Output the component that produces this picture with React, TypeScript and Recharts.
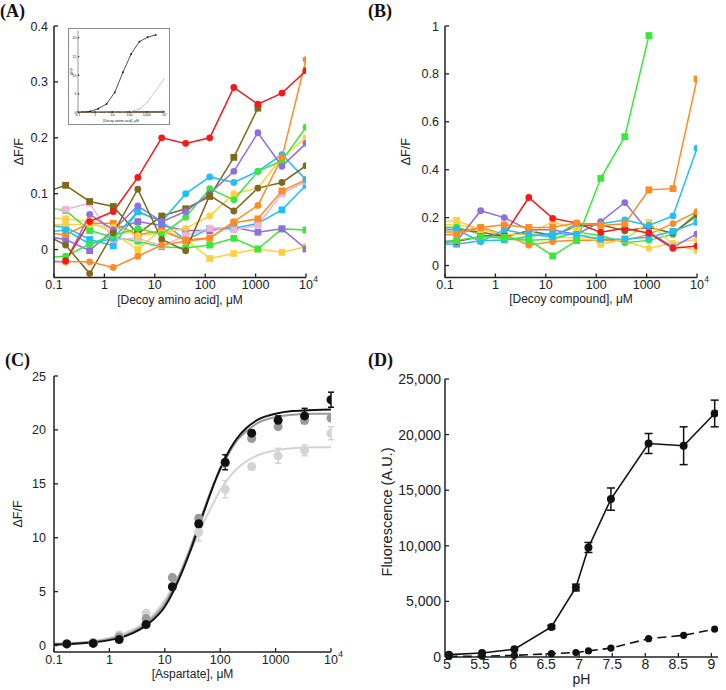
import React from 'react'
import { ComposedChart, Line, XAxis, YAxis, ErrorBar } from 'recharts'

const SANS = '"Liberation Sans", Arial, Helvetica, sans-serif'
const SERIF = '"Liberation Serif", "Times New Roman", serif'
const INK = '#222'

const RED = '#f41a1a'
const ORANGE = '#ff8b25'
const BROWN = '#7d6a1c'
const PURPLE = '#8f6ee0'
const GREEN = '#3ae83a'
const CYAN = '#20bff5'
const YELLOW = '#ffd043'
const PINK = '#f2b3d9'

// 3-fold dilutions (µM). the 0.056 column is left of the 0.1 edge, only its line stubs show
const CONC = [0.056, 0.17, 0.51, 1.5, 4.6, 13.7, 41, 123, 370, 1111, 3333, 10000]
const LOG_TICKS = [0.1, 1, 10, 100, 1000, 10000]

// (A) decoy amino acids, dF/F
const A_RED = [null, -0.02, 0.05, 0.068, 0.129, 0.2, 0.19, 0.2, 0.29, 0.26, 0.28, 0.32]
const A_BROWN_SQ = [0.1, 0.115, 0.086, 0.077, 0.028, 0.06, 0.073, 0.095, 0.165, 0.253, null, null]
const A_BROWN_C = [0.03, 0.008, -0.043, 0.03, 0.108, 0.018, -0.002, 0.097, 0.069, 0.11, 0.12, 0.15]
const A_ORANGE_C = [-0.022, -0.022, -0.022, -0.032, -0.012, 0.008, 0.015, 0.02, 0.05, 0.079, 0.165, 0.34]
const A_ORANGE_SQ = [0.03, 0.027, 0.047, 0.047, 0.027, 0.033, 0.017, 0.021, 0.048, 0.055, 0.105, 0.125]
const A_PINK_SQ = [0.072, 0.072, 0.083, 0.018, 0.02, 0.007, 0.025, 0.038, 0.035, 0.044, 0.1, 0.122]
const A_PURPLE_C = [-0.02, -0.022, 0.063, 0.035, 0.078, 0.05, 0.068, 0.1, 0.14, 0.209, 0.149, 0.19]
const A_PURPLE_SQ = [0.025, 0.018, -0.002, 0.035, 0.05, 0.043, 0.034, 0.034, 0.04, 0.031, 0.037, 0.001]
const A_GREEN_SQ = [0.075, 0.07, 0.034, 0.022, 0.015, 0.005, 0.003, 0.008, 0.02, 0.001, 0.037, 0.035]
const A_GREEN_C = [-0.015, -0.012, 0.01, 0.025, 0.038, 0.027, 0.058, 0.109, 0.089, 0.14, 0.159, 0.219]
const A_CYAN_C = [0.03, 0.035, 0.01, 0.02, 0.068, 0.05, 0.1, 0.13, 0.12, 0.14, 0.17, 0.125]
const A_CYAN_SQ = [0.045, 0.04, 0.018, 0.007, 0.068, 0.05, 0.017, 0.038, 0.038, 0.047, 0.071, 0.115]
const A_YELLOW_C = [0.045, 0.045, 0.045, 0.04, 0.025, 0.03, 0.038, 0.06, 0.1, 0.11, 0.165, 0.2]
const A_YELLOW_SQ = [0.058, 0.055, 0.05, 0.03, 0, 0.037, 0.018, -0.016, -0.007, 0.001, -0.005, 0.005]

// (B) decoy compounds, dF/F
const B_RED = [null, 0.1, 0.121, 0.128, 0.284, 0.197, 0.177, 0.139, 0.156, 0.135, 0.072, 0.082]
const B_GREEN_SQ = [0.1, 0.104, 0.12, 0.118, 0.107, 0.04, 0.104, 0.364, 0.538, 0.96, null, null]
const B_ORANGE_SQ = [0.125, 0.131, 0.159, 0.17, 0.159, 0.16, 0.177, 0.167, 0.174, 0.316, 0.321, 0.779]
const B_ORANGE_C = [0.14, 0.14, 0.16, 0.13, 0.085, 0.1, 0.105, 0.105, 0.105, 0.13, 0.175, 0.225]
const B_CYAN_C = [0.15, 0.15, 0.1, 0.149, 0.13, 0.12, 0.174, 0.174, 0.19, 0.167, 0.207, 0.49]
const B_CYAN_SQ = [0.09, 0.089, 0.103, 0.107, 0.121, 0.135, 0.128, 0.11, 0.111, 0.118, 0.143, 0.181]
const B_PURPLE_C = [0.095, 0.1, 0.229, 0.2, 0.149, 0.149, 0.13, 0.183, 0.263, 0.14, 0.077, 0.132]
const B_YELLOW_SQ = [0.18, 0.188, 0.15, 0.13, 0.13, 0.184, 0.15, 0.089, 0.11, 0.18, 0.086, 0.063]
const B_YELLOW_C = [0.17, 0.17, 0.155, 0.12, 0.14, 0.12, 0.115, 0.115, 0.1, 0.072, 0.093, 0.11]
const B_BROWN_C = [0.15, 0.15, 0.14, 0.12, 0.145, 0.125, 0.165, 0.17, 0.145, 0.16, 0.135, 0.21]
const B_GREEN_C = [0.16, 0.16, 0.13, 0.11, 0.105, 0.11, 0.14, 0.125, 0.095, 0.105, 0.13, 0.22]

// inset of (A): aspartate response and a slow decoy, on the 0-22 scale
const INSET_BLACK = [null, 0.1, 0.3, 1.0, 2.3, 5.4, 10.8, 15.7, 19.0, 20.2, 20.8, null]
const INSET_GRAY = [null, 0, 0, 0, 0, 0.05, 0.1, 0.3, 0.9, 2.8, null, 9.0]

// (C) aspartate titration, three conditions
const C_CONC = [0.17, 0.51, 1.5, 4.6, 13.7, 41, 123, 370, 1111, 3333, 10000]
const C_BLACK = [0.15, 0.2, 0.55, 1.95, 5.45, 11.3, 17.0, 19.7, 20.9, 21.3, 22.8]
const C_BLACK_ERR = [null, null, null, null, null, 0.3, 0.7, 0.25, 0.4, 0.7, 0.7]
const C_GRAY = [0.15, 0.25, 0.8, 2.5, 6.3, 11.8, 16.9, 19.2, 20.3, 20.9, 21.1]
const C_LIGHT = [0.2, 0.3, 1.0, 3.0, 6.3, 10.5, 14.5, 16.6, 17.6, 18.1, 19.7]
const C_LIGHT_ERR = [null, null, null, null, null, 0.8, 0.8, 0.3, 0.7, 0.5, 0.6]
// fitted curves
const FIT_X = [0.1, 0.2, 0.5, 1, 2, 5, 10, 20, 30, 50, 70, 100, 150, 200, 300, 500, 1000, 2000, 5000, 10000]
const FIT_BLACK = [0.1, 0.15, 0.3, 0.5, 0.9, 2.0, 3.6, 6.7, 9.0, 12.3, 14.4, 16.4, 18.2, 19.2, 20.2, 21.0, 21.5, 21.75, 21.85, 21.9]
const FIT_GRAY = [0.15, 0.2, 0.35, 0.6, 1.0, 2.2, 3.9, 7.0, 9.3, 12.5, 14.5, 16.3, 18.0, 19.0, 19.9, 20.7, 21.2, 21.4, 21.5, 21.5]
const FIT_LIGHT = [0.2, 0.25, 0.4, 0.7, 1.2, 2.4, 4.2, 7.0, 8.9, 11.4, 12.9, 14.4, 15.7, 16.4, 17.1, 17.7, 18.1, 18.3, 18.4, 18.4]

// (D) pH dependence
const PH = [5.03, 5.53, 6.02, 6.58, 6.95, 7.14, 7.48, 8.05, 8.58, 9.05]
const D_SOLID = [210, 360, 700, 2700, 6250, 9850, 14200, 19200, 19000, 21900]
const D_SOLID_ERR = [null, null, null, 150, 300, 450, 1000, 900, 1700, 1200]
const D_DASHED = [50, 60, 150, 300, 400, 550, 800, 1650, 1950, 2500]
const PH_TICKS = [5, 5.5, 6, 6.5, 7, 7.5, 8, 8.5, 9]
const D_Y_TICKS = [0, 5000, 10000, 15000, 20000, 25000]

type Series = { key: string; color: string; shape: 'c' | 's'; values: (number | null)[] }

const A_SERIES: Series[] = [
  { key: 'yellowSq', color: YELLOW, shape: 's', values: A_YELLOW_SQ },
  { key: 'greenSq', color: GREEN, shape: 's', values: A_GREEN_SQ },
  { key: 'purpleSq', color: PURPLE, shape: 's', values: A_PURPLE_SQ },
  { key: 'cyanSq', color: CYAN, shape: 's', values: A_CYAN_SQ },
  { key: 'pinkSq', color: PINK, shape: 's', values: A_PINK_SQ },
  { key: 'orangeSq', color: ORANGE, shape: 's', values: A_ORANGE_SQ },
  { key: 'brownSq', color: BROWN, shape: 's', values: A_BROWN_SQ },
  { key: 'yellowC', color: YELLOW, shape: 'c', values: A_YELLOW_C },
  { key: 'cyanC', color: CYAN, shape: 'c', values: A_CYAN_C },
  { key: 'greenC', color: GREEN, shape: 'c', values: A_GREEN_C },
  { key: 'purpleC', color: PURPLE, shape: 'c', values: A_PURPLE_C },
  { key: 'brownC', color: BROWN, shape: 'c', values: A_BROWN_C },
  { key: 'orangeC', color: ORANGE, shape: 'c', values: A_ORANGE_C },
  { key: 'red', color: RED, shape: 'c', values: A_RED },
]

const B_SERIES: Series[] = [
  { key: 'yellowC', color: YELLOW, shape: 'c', values: B_YELLOW_C },
  { key: 'greenC', color: GREEN, shape: 'c', values: B_GREEN_C },
  { key: 'brownC', color: BROWN, shape: 'c', values: B_BROWN_C },
  { key: 'orangeC', color: ORANGE, shape: 'c', values: B_ORANGE_C },
  { key: 'yellowSq', color: YELLOW, shape: 's', values: B_YELLOW_SQ },
  { key: 'purpleC', color: PURPLE, shape: 'c', values: B_PURPLE_C },
  { key: 'cyanSq', color: CYAN, shape: 's', values: B_CYAN_SQ },
  { key: 'red', color: RED, shape: 'c', values: B_RED },
  { key: 'cyanC', color: CYAN, shape: 'c', values: B_CYAN_C },
  { key: 'orangeSq', color: ORANGE, shape: 's', values: B_ORANGE_SQ },
  { key: 'greenSq', color: GREEN, shape: 's', values: B_GREEN_SQ },
]

const rowsFrom = (xs: number[], series: Series[]) =>
  xs.map((x, i) => {
    const row: any = { x }
    series.forEach((s) => (row[s.key] = s.values[i]))
    return row
  })

const A_ROWS = rowsFrom(CONC, A_SERIES)
const B_ROWS = rowsFrom(CONC, B_SERIES)
const INSET_ROWS = CONC.map((x, i) => {
  const row: any = { x, black: INSET_BLACK[i], gray: INSET_GRAY[i] }
  A_SERIES.forEach((s) => (row[s.key] = s.values[i]))
  return row
})
const C_POINTS = C_CONC.map((x, i) => ({
  x, black: C_BLACK[i], blackErr: C_BLACK_ERR[i], gray: C_GRAY[i], light: C_LIGHT[i], lightErr: C_LIGHT_ERR[i],
}))
const C_FIT = FIT_X.map((x, i) => ({ x, black: FIT_BLACK[i], gray: FIT_GRAY[i], light: FIT_LIGHT[i] }))
const D_ROWS = PH.map((x, i) => ({ x, solid: D_SOLID[i], solidErr: D_SOLID_ERR[i], dashed: D_DASHED[i] }))

function dotFor(shape: 'c' | 's', color: string, r: number) {
  return (p: any) => {
    const k = `${p.dataKey}-${p.index}`
    const v = p.payload ? p.payload[p.dataKey] : null
    if (p.cx == null || p.cy == null || v == null) return <g key={k} />
    return shape === 'c' ? (
      <circle key={k} cx={p.cx} cy={p.cy} r={r} fill={color} />
    ) : (
      <rect key={k} x={p.cx - r} y={p.cy - r} width={2 * r} height={2 * r} fill={color} />
    )
  }
}

// ticks point inward, so tick marks are drawn here and the default tick lines are off
function BottomTick(props: any) {
  const { x, y, payload, gap, fs, fmt, len = 4 } = props
  const ay = y - gap
  const v = payload.value
  const sup = fmt === 'log' && v === 10000
  const label = fmt === 'log' ? (sup ? '10' : String(v)) : fmt(v)
  return (
    <g>
      <line x1={x} x2={x} y1={ay} y2={ay - len} stroke={INK} strokeWidth={1.3} />
      <text x={x} y={y} dy="0.71em" textAnchor="middle" fontSize={fs} fill={INK} fontFamily={SANS}>
        {label}
      </text>
      {sup && (
        <text x={x + fs * 0.58} y={y} dy="0.25em" fontSize={fs * 0.68} fill={INK} fontFamily={SANS}>
          4
        </text>
      )}
    </g>
  )
}

function LeftTick(props: any) {
  const { x, y, payload, gap, fs, fmt, len = 4 } = props
  const ax = x + gap
  return (
    <g>
      <line x1={ax} x2={ax + len} y1={y} y2={y} stroke={INK} strokeWidth={1.3} />
      <text x={x} y={y} dy="0.36em" textAnchor="end" fontSize={fs} fill={INK} fontFamily={SANS}>
        {fmt(payload.value)}
      </text>
    </g>
  )
}

const yTitle = (text: string, dx: number, fs: number, dyc = 0) => (p: any) => {
  const vb = p.viewBox
  const cx = vb.x + dx
  const cy = vb.y + vb.height / 2 + dyc
  return (
    <text x={cx} y={cy} dy="0.35em" transform={`rotate(-90 ${cx} ${cy})`} textAnchor="middle" fontSize={fs} fill={INK} fontFamily={SANS}>
      {text}
    </text>
  )
}

const xTitle = (text: string, dy: number, fs: number) => (p: any) => {
  const vb = p.viewBox
  return (
    <text x={vb.x + vb.width / 2} y={vb.y + dy} textAnchor="middle" fontSize={fs} fill={INK} fontFamily={SANS}>
      {text}
    </text>
  )
}

const num = (v: number) => String(v)
const comma = (v: number) => v.toLocaleString('en-US')
const AXIS = { stroke: INK, strokeWidth: 1.5 }

function PanelLetter({ text, left, top }: { text: string; left: number; top: number }) {
  return (
    <div style={{ position: 'absolute', left, top, fontFamily: SERIF, fontWeight: 'bold', fontSize: 18, lineHeight: '20px', color: '#111' }}>
      {text}
    </div>
  )
}

function DecoyPanel({ rows, series, yMax, yTicks, xLabel, yAxisWidth, marginRight, yTitleDx, labelDy }: any) {
  return (
    <ComposedChart width={363} height={320} data={rows} margin={{ top: 26, right: marginRight, bottom: 12.5, left: 0 }}>
      <XAxis
        dataKey="x" type="number" scale="log" domain={[0.1, 10000]} ticks={LOG_TICKS} interval={0}
        allowDataOverflow height={30} axisLine={AXIS} tickLine={false} tickSize={0} tickMargin={2.5}
        tick={(p: any) => <BottomTick {...p} gap={2.5} fs={12.5} fmt="log" />}
        label={xTitle(xLabel, labelDy, 12)}
      />
      <YAxis
        type="number" domain={[-0.05, yMax]} ticks={yTicks} interval={0} allowDataOverflow width={yAxisWidth}
        axisLine={AXIS} tickLine={false} tickSize={0} tickMargin={6}
        tick={(p: any) => <LeftTick {...p} gap={6} fs={12.5} fmt={num} />}
        label={yTitle('ΔF/F', yTitleDx, 12.5)}
      />
      {series.map((s: Series) => (
        <Line
          key={s.key} dataKey={s.key} stroke={s.color} strokeWidth={1.5} type="linear"
          dot={dotFor(s.shape, s.color, 3.4)} activeDot={false} isAnimationActive={false} legendType="none"
        />
      ))}
    </ComposedChart>
  )
}

function Inset() {
  return (
    <div style={{ position: 'absolute', left: 68, top: 28, width: 102, height: 97, boxSizing: 'border-box', border: '1px solid #8a8a8a', background: '#fff' }}>
      <ComposedChart width={100} height={95} data={INSET_ROWS} margin={{ top: 1.5, right: 5, bottom: 0, left: 0 }}>
        <XAxis
          dataKey="x" type="number" scale="log" domain={[0.1, 10000]} ticks={LOG_TICKS} interval={0}
          allowDataOverflow height={11.5} axisLine={{ stroke: '#555', strokeWidth: 0.6 }} tickLine={false} tickSize={0} tickMargin={1}
          tick={(p: any) => <BottomTick {...p} gap={1} fs={3.6} fmt="log" len={1.2} />}
          label={xTitle('[Decoy amino acid], μM', 9.5, 3.4)}
        />
        <YAxis
          type="number" domain={[0, 22]} ticks={[0, 5, 10, 15, 20]} interval={0} allowDataOverflow width={9}
          axisLine={{ stroke: '#555', strokeWidth: 0.6 }} tickLine={false} tickSize={0} tickMargin={1.5}
          tick={(p: any) => <LeftTick {...p} gap={1.5} fs={3.6} fmt={num} len={1.2} />}
          label={yTitle('ΔF/F', 2.5, 3.4)}
        />
        <Line dataKey="gray" stroke="#bdbdbd" strokeWidth={0.8} connectNulls dot={dotFor('c', '#bdbdbd', 0.8)} activeDot={false} isAnimationActive={false} />
        {A_SERIES.map((s) => (
          <Line key={s.key} dataKey={s.key} stroke={s.color} strokeWidth={0.8} dot={false} activeDot={false} isAnimationActive={false} />
        ))}
        <Line dataKey="black" stroke="#222" strokeWidth={0.8} dot={dotFor('c', '#111', 0.9)} activeDot={false} isAnimationActive={false} />
      </ComposedChart>
    </div>
  )
}

function AspartatePanel() {
  return (
    <ComposedChart width={363} height={360} margin={{ top: 46, right: 32, bottom: 8, left: 0 }}>
      <XAxis
        dataKey="x" type="number" scale="log" domain={[0.1, 10000]} ticks={LOG_TICKS} interval={0}
        allowDataOverflow height={30} axisLine={AXIS} tickLine={false} tickSize={0} tickMargin={3}
        tick={(p: any) => <BottomTick {...p} gap={3} fs={12.5} fmt="log" />}
        label={xTitle('[Aspartate], μM', 26, 12)}
      />
      <YAxis
        type="number" domain={[-0.6, 25]} ticks={[0, 5, 10, 15, 20, 25]} interval={0} allowDataOverflow width={54}
        axisLine={AXIS} tickLine={false} tickSize={0} tickMargin={8}
        tick={(p: any) => <LeftTick {...p} gap={8} fs={12.5} fmt={num} />}
        label={yTitle('ΔF/F', 18, 12.5)}
      />
      <Line data={C_FIT} dataKey="light" stroke="#d4d4d4" strokeWidth={2} type="monotone" dot={false} activeDot={false} isAnimationActive={false} />
      <Line data={C_FIT} dataKey="gray" stroke="#9a9a9a" strokeWidth={2} type="monotone" dot={false} activeDot={false} isAnimationActive={false} />
      <Line data={C_FIT} dataKey="black" stroke="#111" strokeWidth={2} type="monotone" dot={false} activeDot={false} isAnimationActive={false} />
      <Line data={C_POINTS} dataKey="light" stroke="none" dot={dotFor('c', '#d4d4d4', 4.5)} activeDot={false} isAnimationActive={false}>
        <ErrorBar dataKey="lightErr" width={3} stroke="#d4d4d4" strokeWidth={1.5} direction="y" />
      </Line>
      <Line data={C_POINTS} dataKey="gray" stroke="none" dot={dotFor('c', '#9a9a9a', 4.5)} activeDot={false} isAnimationActive={false} />
      <Line data={C_POINTS} dataKey="black" stroke="none" dot={dotFor('c', '#111', 4.5)} activeDot={false} isAnimationActive={false}>
        <ErrorBar dataKey="blackErr" width={3} stroke="#111" strokeWidth={1.5} direction="y" />
      </Line>
    </ComposedChart>
  )
}

function PhPanel() {
  return (
    <ComposedChart width={363} height={360} data={D_ROWS} margin={{ top: 49, right: 8, bottom: 8, left: 0 }}>
      <XAxis
        dataKey="x" type="number" domain={[4.97, 9.1]} ticks={PH_TICKS} interval={0} allowDataOverflow
        height={25} axisLine={AXIS} tickLine={false} tickSize={0} tickMargin={2.5}
        tick={(p: any) => <BottomTick {...p} gap={2.5} fs={14} fmt={num} />}
        label={xTitle('pH', 27, 14)}
      />
      <YAxis
        type="number" domain={[0, 25000]} ticks={D_Y_TICKS} interval={0} width={82}
        axisLine={AXIS} tickLine={false} tickSize={0} tickMargin={4}
        tick={(p: any) => <LeftTick {...p} gap={4} fs={14} fmt={comma} />}
        label={yTitle('Fluorescence (A.U.)', 24, 14.5, -6)}
      />
      <Line dataKey="dashed" stroke="#111" strokeWidth={1.6} strokeDasharray="9 5" dot={dotFor('c', '#111', 3.6)} activeDot={false} isAnimationActive={false} />
      <Line dataKey="solid" stroke="#111" strokeWidth={1.6} dot={dotFor('c', '#111', 4)} activeDot={false} isAnimationActive={false}>
        <ErrorBar dataKey="solidErr" width={4} stroke="#111" strokeWidth={1.5} direction="y" />
      </Line>
    </ComposedChart>
  )
}

export default function App() {
  return (
    <div style={{ position: 'absolute', left: 0, top: 0, width: 726, height: 690, background: '#fff', overflow: 'hidden' }}>
      <div style={{ position: 'absolute', left: 0, top: 0 }}>
        <DecoyPanel rows={A_ROWS} series={A_SERIES} yMax={0.4} yTicks={[0, 0.1, 0.2, 0.3, 0.4]}
          xLabel="[Decoy amino acid], μM" yAxisWidth={54} marginRight={57} yTitleDx={19} labelDy={26} />
      </div>
      <Inset />
      <div style={{ position: 'absolute', left: 363, top: 0 }}>
        <DecoyPanel rows={B_ROWS} series={B_SERIES} yMax={1} yTicks={[0, 0.2, 0.4, 0.6, 0.8, 1]}
          xLabel="[Decoy compound], μM" yAxisWidth={82} marginRight={29} yTitleDx={43} labelDy={25.5} />
      </div>
      <div style={{ position: 'absolute', left: 0, top: 330 }}>
        <AspartatePanel />
      </div>
      <div style={{ position: 'absolute', left: 363, top: 330 }}>
        <PhPanel />
      </div>
      <PanelLetter text="(A)" left={0} top={1} />
      <PanelLetter text="(B)" left={368} top={1} />
      <PanelLetter text="(C)" left={5} top={350} />
      <PanelLetter text="(D)" left={368} top={350} />
    </div>
  )
}
